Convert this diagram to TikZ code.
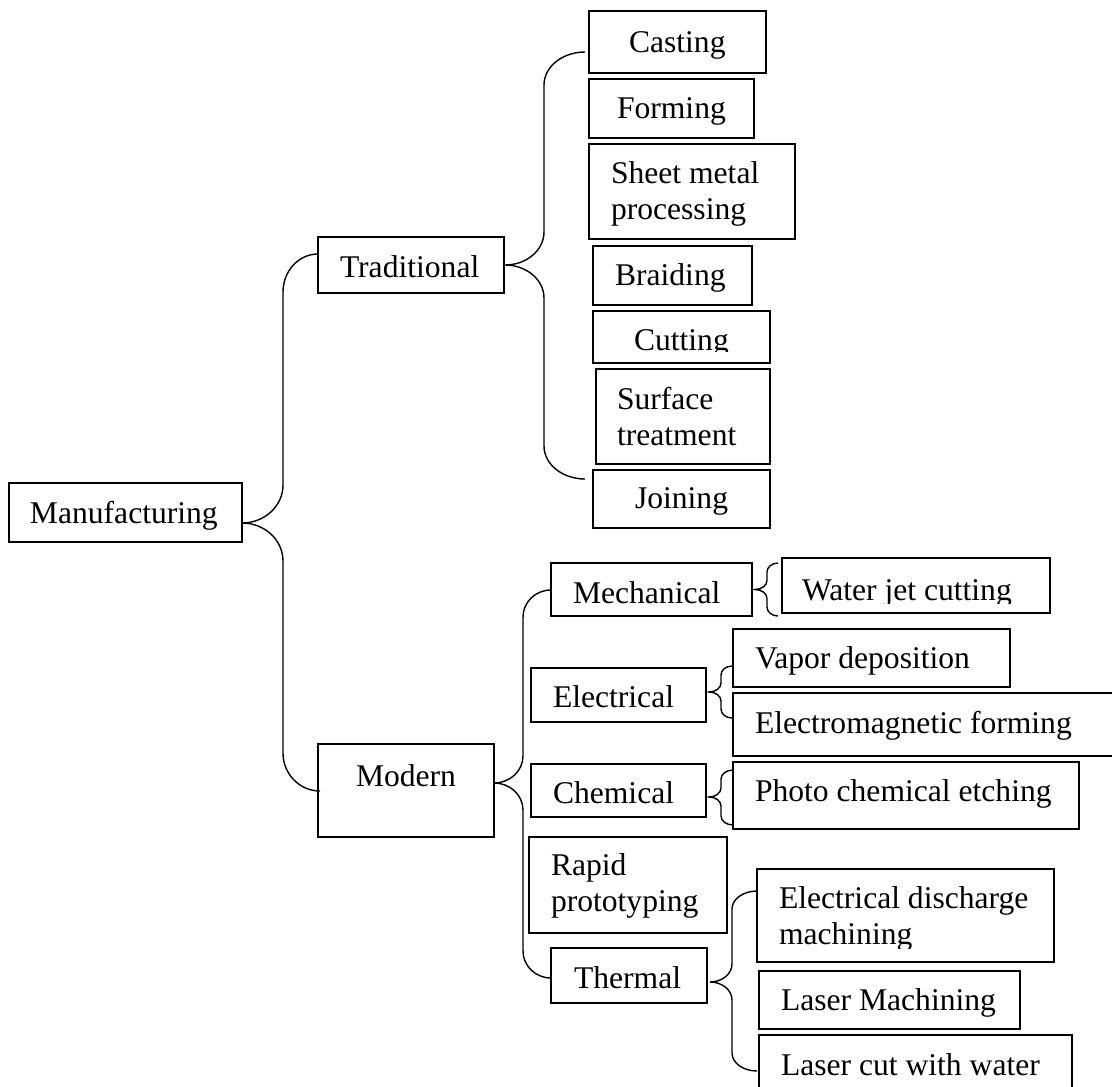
\documentclass[tikz,border=0pt]{standalone}
\usepackage{fontspec}
\setmainfont{Liberation Serif}
\usetikzlibrary{calc}
\tikzset{
  box/.style={draw, line width=2.2pt, inner sep=0pt, outer sep=0pt},
  txt/.style={anchor=base west, inner sep=0pt, outer sep=0pt, font=\fontsize{31.6}{36}\selectfont},
  bracel/.style={line width=1.4pt},
}
\newcommand\bx[5]{\node[box, minimum width={#4pt-#2pt}, minimum height={#5pt-#3pt}] (#1) at ({(#2+#4)/2},{(#3+#5)/2}) {};}
\newcommand\twolines[2]{\vtop{\hbox{#1}\hbox{#2}}}
% Word-style brace: tip, top end, bottom end, vertical x, vertical radius
\newcommand\wbrace[5]{%
  \draw[bracel] let \p1=#1, \p2=#2, \p3=#3,
     \n1={#4pt-\x1}, \n2={\x2-#4pt}, \n3={\x3-#4pt}, \n4={#5pt} in
  (\p2) .. controls ({\x2-0.552*\n2},\y2) and (#4pt,{\y2-0.448*\n4}) .. (#4pt,{\y2-\n4})
  -- (#4pt,{\y1+\n4}) .. controls (#4pt,{\y1+0.448*\n4}) and ({\x1+0.552*\n1},\y1) .. (\p1)
  .. controls ({\x1+0.552*\n1},\y1) and (#4pt,{\y1-0.448*\n4}) .. (#4pt,{\y1-\n4})
  -- (#4pt,{\y3+\n4}) .. controls (#4pt,{\y3+0.448*\n4}) and ({\x3-0.552*\n3},\y3) .. (\p3);
}
\begin{document}
\begin{tikzpicture}[x=1pt,y=-1pt]
\useasboundingbox (0,0) rectangle (1112,1087);
% boxes
\bx{manu}{9}{483}{242}{542}
\bx{trad}{318}{237}{504}{293}
\bx{modern}{318}{744}{494}{837}
\bx{casting}{589}{11}{766}{73}
\bx{forming}{589}{79}{754}{138}
\bx{sheet}{589}{144}{795}{239}
\bx{braiding}{593}{246}{752}{305}
\bx{cutting}{593}{311}{770}{363}
\bx{surface}{596}{369}{770}{464}
\bx{joining}{593}{470}{770}{528}
\bx{mech}{551}{563}{752}{616}
\bx{water}{782}{558}{1050}{613}
\bx{elec}{531}{668}{706}{722}
\bx{vapor}{733}{629}{1010}{687}
\bx{emf}{733}{693}{1130}{756}
\bx{chem}{531}{764}{706}{817}
\bx{photo}{733}{762}{1079}{829}
\bx{rapid}{529}{837}{727}{933}
\bx{thermal}{551}{948}{707}{1003}
\bx{edm}{757}{869}{1054}{962}
\bx{lasermach}{759}{971}{1020}{1029}
\bx{lasercut}{759}{1035}{1072}{1100}
% texts
\node[txt] (manu-t) at (30,523) {Manufacturing};
\node[txt] (trad-t) at (340,277) {Traditional};
\node[txt] (modern-t) at (356,786) {Modern};
\node[txt] (casting-t) at (629,52) {Casting};
\node[txt] (forming-t) at (617,118) {Forming};
\node[txt] (sheet-t) at (611,183) {\twolines{Sheet metal}{processing}};
\node[txt] (braiding-t) at (615,285) {Braiding};
\begin{scope}
  \clip (593,311) rectangle (770,351.5);
  \node[txt] (cutting-t) at (634,350) {Cutting};
\end{scope}
\node[txt] (surface-t) at (617,409) {\twolines{Surface}{treatment}};
\node[txt] (joining-t) at (635,508) {Joining};
\node[txt] (mech-t) at (573,603) {Mechanical};
\begin{scope}
  \clip (782,558) rectangle (1050,603);
  \node[txt] (water-t) at (802,600) {Water jet cutting};
\end{scope}
\node[txt] (elec-t) at (553,707) {Electrical};
\node[txt] (vapor-t) at (755,668) {Vapor deposition};
\node[txt] (emf-t) at (755,733) {Electromagnetic forming};
\node[txt] (chem-t) at (553,803) {Chemical};
\node[txt] (photo-t) at (755,801) {Photo chemical etching};
\node[txt] (rapid-t) at (551,875) {\twolines{Rapid}{prototyping}};
\node[txt] (thermal-t) at (574,988) {Thermal};
\begin{scope}
  \clip (757,869) rectangle (1054,948);
  \node[txt] (edm-t) at (779,908) {\twolines{Electrical discharge}{machining}};
\end{scope}
\node[txt] (lasermach-t) at (781,1010) {Laser Machining};
\node[txt] (lasercut-t) at (781,1075) {Laser cut with water};
% braces
\wbrace{($(manu.east)+(0,10.5)$)}{($(trad.west)+(0,-11)$)}{($(modern.west)+(2,0.5)$)}{283}{38}
\wbrace{($(trad.east)+(1,0)$)}{($(casting.west)+(-4,10)$)}{($(joining.west)+(-8,-20)$)}{544}{33}
\wbrace{($(modern.east)+(0,-7.5)$)}{($(mech.west)+(0,0.5)$)}{($(thermal.west)+(0,2.5)$)}{523}{27}
\wbrace{($(mech.east)+(3,0)$)}{($(water.west)+(-4,-22.5)$)}{($(water.west)+(-4,30.5)$)}{767}{9}
\wbrace{($(elec.east)+(3,-3)$)}{($(vapor.west)+(-1,8)$)}{($(emf.west)+(-1,-6.5)$)}{721}{9}
\wbrace{($(chem.east)+(3,6.5)$)}{($(photo.west)+(0,-25.5)$)}{($(photo.west)+(0,29.5)$)}{721}{9}
\wbrace{($(thermal.east)+(3,6.5)$)}{($(edm.west)+(0,-24.5)$)}{($(lasercut.north west)+(-2,36)$)}{732}{18}
\end{tikzpicture}
\end{document}
